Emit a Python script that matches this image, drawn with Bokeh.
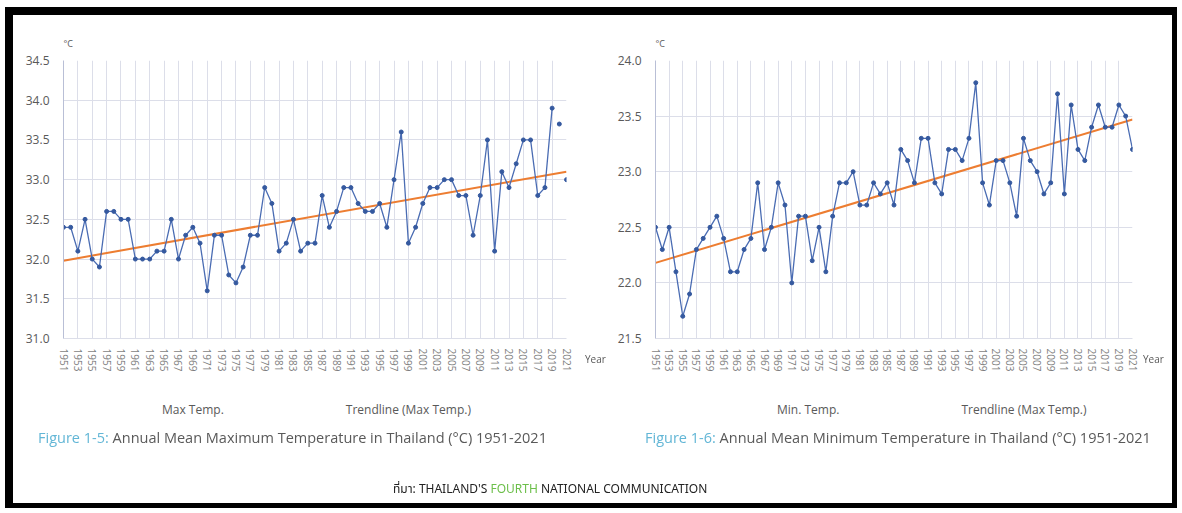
from bokeh.plotting import figure
from bokeh.models import (Range1d, SingleIntervalTicker, Legend, LegendItem, Title, Div,
                          NumeralTickFormatter, CustomJSTickFormatter)
from bokeh.layouts import column, row
from bokeh.embed import file_html
from bokeh.resources import INLINE

years = list(range(1951, 2022))
max_temp = [32.4, 32.4, 32.1, 32.5, 32.0, 31.9, 32.6, 32.6, 32.5, 32.5,
            32.0, 32.0, 32.0, 32.1, 32.1, 32.5, 32.0, 32.3, 32.4, 32.2,
            31.6, 32.3, 32.3, 31.8, 31.7, 31.9, 32.3, 32.3, 32.9, 32.7,
            32.1, 32.2, 32.5, 32.1, 32.2, 32.2, 32.8, 32.4, 32.6, 32.9,
            32.9, 32.7, 32.6, 32.6, 32.7, 32.4, 33.0, 33.6, 32.2, 32.4,
            32.7, 32.9, 32.9, 33.0, 33.0, 32.8, 32.8, 32.3, 32.8, 33.5,
            32.1, 33.1, 32.9, 33.2, 33.5, 33.5, 32.8, 32.9, 33.9, 33.7,
            33.0]
min_temp = [22.5, 22.3, 22.5, 22.1, 21.7, 21.9, 22.3, 22.4, 22.5, 22.6,
            22.4, 22.1, 22.1, 22.3, 22.4, 22.9, 22.3, 22.5, 22.9, 22.7,
            22.0, 22.6, 22.6, 22.2, 22.5, 22.1, 22.6, 22.9, 22.9, 23.0,
            22.7, 22.7, 22.9, 22.8, 22.9, 22.7, 23.2, 23.1, 22.9, 23.3,
            23.3, 22.9, 22.8, 23.2, 23.2, 23.1, 23.3, 23.8, 22.9, 22.7,
            23.1, 23.1, 22.9, 22.6, 23.3, 23.1, 23.0, 22.8, 22.9, 23.7,
            22.8, 23.6, 23.2, 23.1, 23.4, 23.6, 23.4, 23.4, 23.6, 23.5,
            23.2]
# line of max temp drawn up to 2019 in the source (2020, 2021 shown as isolated points)
max_line_last_year = 2019
trend_years = [1951, 2021]
trend_max = [31.98, 33.10]
trend_min = [22.18, 23.47]
x_tick_step = 2
y_tick_step = 0.5

LINE = "#4a6cb3"
MARK = "#35599f"
ORANGE = "#ed7d31"
GRID = "#dcdee9"
TXT = "#595959"
FONT = "Open Sans"

base_year = years[0]
xs = [y - base_year for y in years]
trend_xs = [y - base_year for y in trend_years]


def make_chart(values, line_n, trend, yr, fw, mbl, mbr):
    p = figure(frame_width=fw, frame_height=278, x_range=Range1d(xs[0], xs[-1]),
               y_range=Range1d(*yr), output_backend="svg", toolbar_location=None,
               min_border_left=mbl, min_border_right=mbr, min_border_top=60,
               min_border_bottom=30, outline_line_color=None,
               background_fill_color="white", border_fill_color="white")
    p.xaxis.ticker = SingleIntervalTicker(interval=x_tick_step, num_minor_ticks=0)
    p.xaxis.formatter = CustomJSTickFormatter(code=f"return String(tick + {base_year});")
    p.yaxis.ticker = SingleIntervalTicker(interval=y_tick_step, num_minor_ticks=0)
    p.yaxis.formatter = NumeralTickFormatter(format="0.0")
    p.xaxis.major_label_orientation = "vertical"
    p.xaxis.major_label_text_font_size = "10px"
    p.xaxis.major_label_text_color = "#7f7f7f"
    p.xaxis.major_label_text_font = FONT
    p.yaxis.major_label_text_font_size = "12px"
    p.yaxis.major_label_text_color = TXT
    p.yaxis.major_label_text_font = FONT
    for ax in (p.xaxis, p.yaxis):
        ax.major_tick_line_color = None
        ax.minor_tick_line_color = None
    p.xaxis.axis_line_color = GRID
    p.yaxis.axis_line_color = "#b9bfd6"
    p.xaxis.major_label_standoff = 4
    p.yaxis.major_label_standoff = 8
    p.xgrid.grid_line_color = GRID
    p.ygrid.grid_line_color = GRID

    tr = p.line(trend_xs, trend, line_color=ORANGE, line_width=2)
    ln = p.line(xs[:line_n], values[:line_n], line_color=LINE, line_width=1.3)
    p.scatter(xs, values, size=4, color=MARK)

    t = Title(text="°C", align="left", text_font_size="9px", text_color=TXT,
              text_font=FONT, text_font_style="normal", standoff=22)
    p.add_layout(t, "above")
    return p


def make_legend(width, series_name, loc, spacing):
    lg = figure(frame_width=width, frame_height=70, x_range=Range1d(0, 1), y_range=Range1d(0, 1),
                output_backend="svg", toolbar_location=None, min_border=0,
                x_axis_location=None, y_axis_location=None, outline_line_color=None,
                background_fill_color="white", border_fill_color="white")
    lg.grid.visible = False
    ln = lg.line([], [], line_color=LINE, line_width=1.3)
    sc = lg.scatter([], [], size=4, color=MARK)
    tr = lg.line([], [], line_color=ORANGE, line_width=2)
    legend = Legend(items=[LegendItem(label=series_name, renderers=[ln, sc]),
                           LegendItem(label="Trendline (Max Temp.)", renderers=[tr])],
                    orientation="horizontal", location=loc, spacing=spacing,
                    border_line_color=None, background_fill_alpha=0,
                    label_text_font_size="12px", label_text_color=TXT,
                    label_text_font=FONT, glyph_width=28, label_standoff=4,
                    padding=0, margin=0)
    lg.add_layout(legend)
    return lg


p1 = make_chart(max_temp, years.index(max_line_last_year) + 1, trend_max, (31.0, 34.5),
                503, 63, 29)
p2 = make_chart(min_temp, len(years), trend_min, (21.5, 24.0),
                477, 60, 37)
l1 = make_legend(595, "Max Temp.", (130, 25), 90)
l2 = make_legend(574, "Min. Temp.", (150, 25), 90)

cap = "position:fixed;top:428px;font-family:'Open Sans',sans-serif;font-size:14.5px;color:#595959;white-space:nowrap;"
year_style = "position:fixed;top:352px;font-family:'Open Sans',sans-serif;font-size:10px;color:#595959;"
overlay = Div(text=
    f'<div style="{cap}left:38px;"><span style="color:#62b6d6">Figure 1-5:</span> '
    'Annual Mean Maximum Temperature in Thailand (°C) 1951-2021</div>'
    f'<div style="{cap}left:645px;"><span style="color:#62b6d6">Figure 1-6:</span> '
    'Annual Mean Minimum Temperature in Thailand (°C) 1951-2021</div>'
    '<div style="position:fixed;left:393px;top:481px;font-family:\'Noto Sans Thai\',\'Noto Sans\',sans-serif;'
    'font-size:12px;color:#222;white-space:nowrap;">ที่มา: THAILAND\'S '
    '<span style="color:#6cbf4a">FOURTH</span> NATIONAL COMMUNICATION</div>'
    f'<div style="{year_style}left:585px;">Year</div>'
    f'<div style="{year_style}left:1143px;">Year</div>'
    '<div style="position:fixed;left:5px;top:7px;width:1172px;height:501px;box-sizing:border-box;'
    'border-style:solid;border-color:black;border-width:8px 5px 5px 8px;pointer-events:none;"></div>',
    width=10, height=10)

layout = column(row(p1, p2), row(l1, l2), overlay)

open("out.html", "w").write(file_html(layout, INLINE))
